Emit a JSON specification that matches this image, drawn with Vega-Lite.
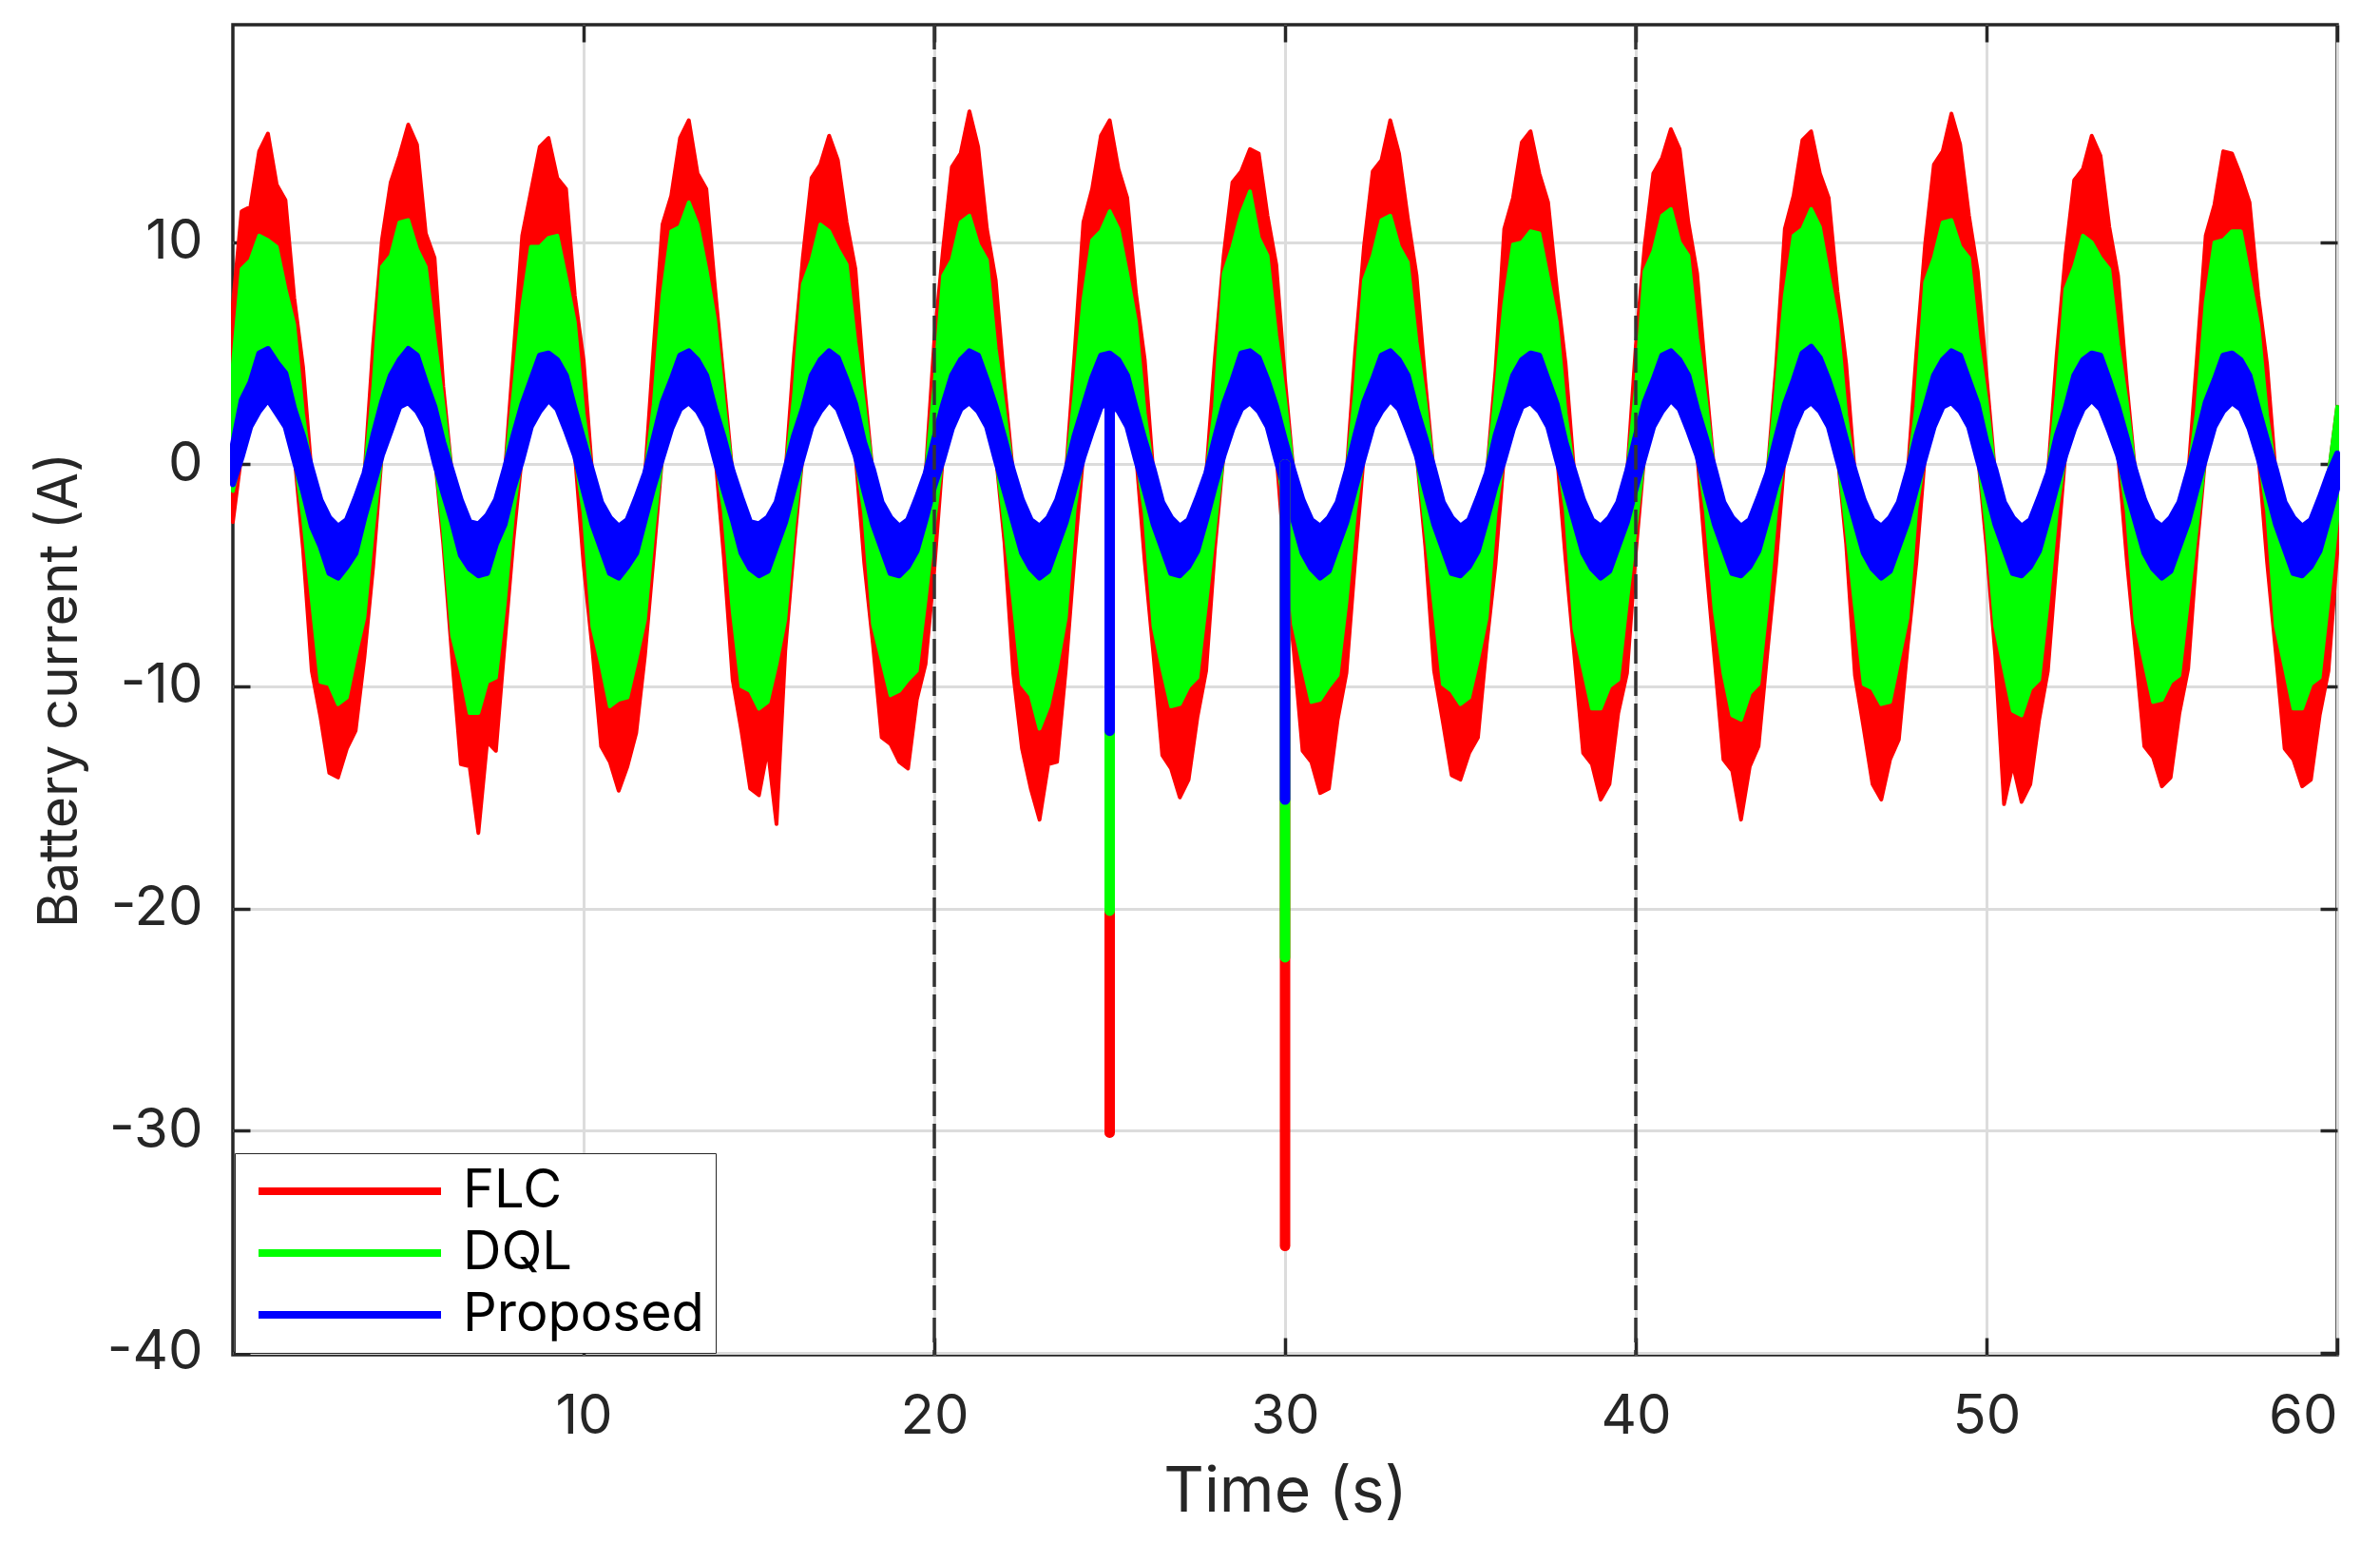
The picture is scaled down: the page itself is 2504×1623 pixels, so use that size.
{
  "$schema": "https://vega.github.io/schema/vega-lite/v6.json",
  "width": 2214,
  "height": 1399,
  "autosize": {"type": "none"},
  "padding": {"left": 245, "top": 26, "right": 45, "bottom": 198},
  "background": "white",
  "config": {
    "font": "Inter",
    "view": {"stroke": "#262626", "strokeWidth": 3.5},
    "axis": {
      "domain": false,
      "tickColor": "#262626",
      "tickWidth": 3.5,
      "tickSize": -18,
      "labelColor": "#262626",
      "labelFont": "Inter",
      "labelFontSize": 58,
      "titleColor": "#262626",
      "titleFont": "Inter",
      "titleFontWeight": "normal",
      "gridColor": "#dcdcdc",
      "gridWidth": 3
    }
  },
  "resolve": {"axis": {"x": "independent", "y": "independent"}},
  "datasets": {
    "sig": [
      {"t":0,"a":-2.6,"b":7.2,"c":-1.2,"d":4.5,"e":-0.9,"f":0.9},
      {"t":0.25,"a":0.5,"b":11.4,"c":0.5,"d":8.8,"e":0.3,"f":2.9},
      {"t":0.5,"a":1.8,"b":11.6,"c":1.8,"d":9.2,"e":1.7,"f":3.7},
      {"t":0.75,"a":2.7,"b":14.1,"c":2.7,"d":10.3,"e":2.4,"f":5.0},
      {"t":1,"a":3.0,"b":14.9,"c":3.0,"d":10.1,"e":2.9,"f":5.2},
      {"t":1.25,"a":2.7,"b":12.6,"c":2.7,"d":9.8,"e":2.3,"f":4.6},
      {"t":1.5,"a":1.8,"b":11.9,"c":1.8,"d":7.9,"e":1.7,"f":4.1},
      {"t":1.75,"a":0.5,"b":7.5,"c":0.5,"d":6.3,"e":0.2,"f":2.5},
      {"t":2,"a":-3.8,"b":4.4,"c":-2.4,"d":2.3,"e":-1.2,"f":1.3},
      {"t":2.25,"a":-9.3,"b":-0.5,"c":-6.1,"d":-0.5,"e":-2.8,"f":-0.2},
      {"t":2.5,"a":-11.4,"b":-1.8,"c":-9.8,"d":-1.8,"e":-3.7,"f":-1.6},
      {"t":2.75,"a":-13.9,"b":-2.7,"c":-9.9,"d":-2.7,"e":-4.9,"f":-2.4},
      {"t":3,"a":-14.1,"b":-3.0,"c":-10.8,"d":-3.0,"e":-5.1,"f":-2.8},
      {"t":3.25,"a":-12.8,"b":-2.7,"c":-10.5,"d":-2.7,"e":-4.6,"f":-2.5},
      {"t":3.5,"a":-12.0,"b":-1.8,"c":-8.6,"d":-1.8,"e":-4.0,"f":-1.5},
      {"t":3.75,"a":-8.7,"b":-0.5,"c":-6.9,"d":-0.5,"e":-2.4,"f":-0.4},
      {"t":4,"a":-4.6,"b":5.4,"c":-2.9,"d":3.4,"e":-1.0,"f":1.3},
      {"t":4.25,"a":0.5,"b":10.1,"c":0.5,"d":8.9,"e":0.4,"f":2.8},
      {"t":4.5,"a":1.8,"b":12.7,"c":1.8,"d":9.4,"e":1.5,"f":4.0},
      {"t":4.75,"a":2.7,"b":13.9,"c":2.7,"d":10.9,"e":2.6,"f":4.7},
      {"t":5,"a":3.0,"b":15.3,"c":3.0,"d":11.0,"e":2.8,"f":5.2},
      {"t":5.25,"a":2.7,"b":14.4,"c":2.7,"d":9.7,"e":2.4,"f":4.9},
      {"t":5.5,"a":1.8,"b":10.4,"c":1.8,"d":8.9,"e":1.7,"f":3.7},
      {"t":5.75,"a":0.5,"b":9.3,"c":0.5,"d":5.7,"e":0.1,"f":2.6},
      {"t":6,"a":-3.6,"b":3.5,"c":-3.0,"d":2.7,"e":-1.3,"f":1.0},
      {"t":6.25,"a":-8.7,"b":-0.5,"c":-7.7,"d":-0.5,"e":-2.6,"f":-0.3},
      {"t":6.5,"a":-13.5,"b":-1.8,"c":-9.3,"d":-1.8,"e":-4.1,"f":-1.6},
      {"t":6.75,"a":-13.6,"b":-2.7,"c":-11.2,"d":-2.7,"e":-4.7,"f":-2.6},
      {"t":7,"a":-16.6,"b":-3.0,"c":-11.2,"d":-3.0,"e":-5.0,"f":-2.7},
      {"t":7.25,"a":-12.5,"b":-2.7,"c":-9.8,"d":-2.7,"e":-4.9,"f":-2.3},
      {"t":7.5,"a":-12.9,"b":-1.8,"c":-9.6,"d":-1.8,"e":-3.6,"f":-1.6},
      {"t":7.75,"a":-8.1,"b":-0.5,"c":-6.3,"d":-0.5,"e":-2.7,"f":-0.2},
      {"t":8,"a":-3.4,"b":4.9,"c":-2.1,"d":3.2,"e":-1.1,"f":1.3},
      {"t":8.25,"a":0.5,"b":10.3,"c":0.5,"d":7.1,"e":0.2,"f":2.7},
      {"t":8.5,"a":1.8,"b":12.3,"c":1.8,"d":9.8,"e":1.7,"f":3.8},
      {"t":8.75,"a":2.7,"b":14.3,"c":2.7,"d":9.8,"e":2.4,"f":4.9},
      {"t":9,"a":3.0,"b":14.7,"c":3.0,"d":10.2,"e":2.9,"f":5.0},
      {"t":9.25,"a":2.7,"b":12.9,"c":2.7,"d":10.3,"e":2.5,"f":4.7},
      {"t":9.5,"a":1.8,"b":12.4,"c":1.8,"d":8.4,"e":1.5,"f":4.0},
      {"t":9.75,"a":0.5,"b":7.6,"c":0.5,"d":6.4,"e":0.4,"f":2.5},
      {"t":10,"a":-4.5,"b":4.7,"c":-2.2,"d":2.3,"e":-1.2,"f":1.1},
      {"t":10.25,"a":-8.3,"b":-0.5,"c":-7.3,"d":-0.5,"e":-2.7,"f":-0.3},
      {"t":10.5,"a":-12.7,"b":-1.8,"c":-9.0,"d":-1.8,"e":-3.8,"f":-1.7},
      {"t":10.75,"a":-13.4,"b":-2.7,"c":-10.9,"d":-2.7,"e":-4.9,"f":-2.4},
      {"t":11,"a":-14.7,"b":-3.0,"c":-10.6,"d":-3.0,"e":-5.1,"f":-2.8},
      {"t":11.25,"a":-13.6,"b":-2.7,"c":-10.5,"d":-2.7,"e":-4.6,"f":-2.5},
      {"t":11.5,"a":-12.1,"b":-1.8,"c":-8.8,"d":-1.8,"e":-4.0,"f":-1.5},
      {"t":11.75,"a":-8.6,"b":-0.5,"c":-7.0,"d":-0.5,"e":-2.5,"f":-0.4},
      {"t":12,"a":-4.1,"b":5.3,"c":-2.9,"d":2.7,"e":-1.0,"f":1.2},
      {"t":12.25,"a":0.5,"b":10.8,"c":0.5,"d":7.6,"e":0.3,"f":2.8},
      {"t":12.5,"a":1.8,"b":12.1,"c":1.8,"d":10.5,"e":1.6,"f":3.8},
      {"t":12.75,"a":2.7,"b":14.7,"c":2.7,"d":10.7,"e":2.5,"f":4.9},
      {"t":13,"a":3.0,"b":15.5,"c":3.0,"d":11.8,"e":2.8,"f":5.1},
      {"t":13.25,"a":2.7,"b":13.1,"c":2.7,"d":10.8,"e":2.4,"f":4.7},
      {"t":13.5,"a":1.8,"b":12.4,"c":1.8,"d":8.8,"e":1.7,"f":4.0},
      {"t":13.75,"a":0.5,"b":7.9,"c":0.5,"d":6.5,"e":0.2,"f":2.5},
      {"t":14,"a":-4.2,"b":3.7,"c":-2.1,"d":2.8,"e":-1.2,"f":1.2},
      {"t":14.25,"a":-9.7,"b":-0.5,"c":-6.6,"d":-0.5,"e":-2.5,"f":-0.3},
      {"t":14.5,"a":-12.0,"b":-1.8,"c":-10.0,"d":-1.8,"e":-4.0,"f":-1.5},
      {"t":14.75,"a":-14.6,"b":-2.7,"c":-10.2,"d":-2.7,"e":-4.7,"f":-2.6},
      {"t":15,"a":-14.9,"b":-3.0,"c":-11.0,"d":-3.0,"e":-5.0,"f":-2.7},
      {"t":15.25,"a":-12.8,"b":-2.7,"c":-10.7,"d":-2.7,"e":-4.8,"f":-2.4},
      {"t":15.5,"a":-16.2,"b":-1.8,"c":-9.0,"d":-1.8,"e":-3.7,"f":-1.7},
      {"t":15.75,"a":-8.4,"b":-0.5,"c":-7.0,"d":-0.5,"e":-2.6,"f":-0.2},
      {"t":16,"a":-3.7,"b":4.9,"c":-2.7,"d":3.1,"e":-1.1,"f":1.3},
      {"t":16.25,"a":0.5,"b":9.3,"c":0.5,"d":8.1,"e":0.3,"f":2.5},
      {"t":16.5,"a":1.8,"b":12.9,"c":1.8,"d":9.2,"e":1.7,"f":4.0},
      {"t":16.75,"a":2.7,"b":13.5,"c":2.7,"d":10.8,"e":2.4,"f":4.7},
      {"t":17,"a":3.0,"b":14.8,"c":3.0,"d":10.5,"e":2.9,"f":5.1},
      {"t":17.25,"a":2.7,"b":13.7,"c":2.7,"d":9.7,"e":2.5,"f":4.8},
      {"t":17.5,"a":1.8,"b":10.9,"c":1.8,"d":9.0,"e":1.5,"f":3.8},
      {"t":17.75,"a":0.5,"b":8.8,"c":0.5,"d":5.5,"e":0.4,"f":2.7},
      {"t":18,"a":-4.4,"b":3.6,"c":-2.2,"d":2.7,"e":-1.2,"f":1.0},
      {"t":18.25,"a":-8.1,"b":-0.5,"c":-7.2,"d":-0.5,"e":-2.7,"f":-0.2},
      {"t":18.5,"a":-12.3,"b":-1.8,"c":-8.8,"d":-1.8,"e":-3.8,"f":-1.7},
      {"t":18.75,"a":-12.6,"b":-2.7,"c":-10.4,"d":-2.7,"e":-4.9,"f":-2.4},
      {"t":19,"a":-13.4,"b":-3.0,"c":-10.2,"d":-3.0,"e":-5.0,"f":-2.8},
      {"t":19.25,"a":-13.7,"b":-2.7,"c":-9.7,"d":-2.7,"e":-4.6,"f":-2.5},
      {"t":19.5,"a":-10.6,"b":-1.8,"c":-9.3,"d":-1.8,"e":-3.9,"f":-1.5},
      {"t":19.75,"a":-9.0,"b":-0.5,"c":-6.1,"d":-0.5,"e":-2.5,"f":-0.4},
      {"t":20,"a":-4.7,"b":5.6,"c":-2.6,"d":3.5,"e":-1.0,"f":1.2},
      {"t":20.25,"a":0.5,"b":9.7,"c":0.5,"d":8.5,"e":0.2,"f":2.7},
      {"t":20.5,"a":1.8,"b":13.4,"c":1.8,"d":9.2,"e":1.6,"f":4.0},
      {"t":20.75,"a":2.7,"b":14.0,"c":2.7,"d":10.9,"e":2.5,"f":4.7},
      {"t":21,"a":3.0,"b":15.9,"c":3.0,"d":11.2,"e":2.8,"f":5.1},
      {"t":21.25,"a":2.7,"b":14.3,"c":2.7,"d":9.9,"e":2.4,"f":4.9},
      {"t":21.5,"a":1.8,"b":10.6,"c":1.8,"d":9.2,"e":1.7,"f":3.8},
      {"t":21.75,"a":0.5,"b":8.3,"c":0.5,"d":5.2,"e":0.2,"f":2.6},
      {"t":22,"a":-3.5,"b":3.6,"c":-2.7,"d":2.4,"e":-1.2,"f":1.2},
      {"t":22.25,"a":-9.4,"b":-0.5,"c":-6.1,"d":-0.5,"e":-2.6,"f":-0.3},
      {"t":22.5,"a":-12.8,"b":-1.8,"c":-9.9,"d":-1.8,"e":-4.0,"f":-1.6},
      {"t":22.75,"a":-14.6,"b":-2.7,"c":-10.4,"d":-2.7,"e":-4.7,"f":-2.5},
      {"t":23,"a":-16.0,"b":-3.0,"c":-11.9,"d":-3.0,"e":-5.1,"f":-2.8},
      {"t":23.25,"a":-13.5,"b":-2.7,"c":-10.9,"d":-2.7,"e":-4.8,"f":-2.4},
      {"t":23.5,"a":-13.4,"b":-1.8,"c":-9.1,"d":-1.8,"e":-3.7,"f":-1.6},
      {"t":23.75,"a":-9.2,"b":-0.5,"c":-6.9,"d":-0.5,"e":-2.6,"f":-0.3},
      {"t":24,"a":-4.1,"b":5.0,"c":-2.0,"d":3.2,"e":-1.1,"f":1.3},
      {"t":24.25,"a":0.5,"b":10.9,"c":0.5,"d":7.4,"e":0.3,"f":2.6},
      {"t":24.5,"a":1.8,"b":12.4,"c":1.8,"d":10.1,"e":1.5,"f":3.9},
      {"t":24.75,"a":2.7,"b":14.8,"c":2.7,"d":10.5,"e":2.6,"f":4.9},
      {"t":25,"a":3.0,"b":15.5,"c":3.0,"d":11.4,"e":2.8,"f":5.0},
      {"t":25.25,"a":2.7,"b":13.3,"c":2.7,"d":10.6,"e":2.4,"f":4.7},
      {"t":25.5,"a":1.8,"b":12.0,"c":1.8,"d":8.6,"e":1.7,"f":4.0},
      {"t":25.75,"a":0.5,"b":7.7,"c":0.5,"d":6.4,"e":0.2,"f":2.5},
      {"t":26,"a":-4.4,"b":4.7,"c":-2.2,"d":2.3,"e":-1.2,"f":1.1},
      {"t":26.25,"a":-8.6,"b":-0.5,"c":-7.3,"d":-0.5,"e":-2.7,"f":-0.2},
      {"t":26.5,"a":-13.1,"b":-1.8,"c":-9.2,"d":-1.8,"e":-3.8,"f":-1.7},
      {"t":26.75,"a":-13.7,"b":-2.7,"c":-10.9,"d":-2.7,"e":-4.9,"f":-2.4},
      {"t":27,"a":-15.0,"b":-3.0,"c":-10.8,"d":-3.0,"e":-5.0,"f":-2.8},
      {"t":27.25,"a":-14.2,"b":-2.7,"c":-10.0,"d":-2.7,"e":-4.6,"f":-2.5},
      {"t":27.5,"a":-11.4,"b":-1.8,"c":-9.6,"d":-1.8,"e":-3.9,"f":-1.5},
      {"t":27.75,"a":-9.3,"b":-0.5,"c":-6.3,"d":-0.5,"e":-2.5,"f":-0.4},
      {"t":28,"a":-3.8,"b":4.8,"c":-2.8,"d":2.6,"e":-1.0,"f":1.2},
      {"t":28.25,"a":0.5,"b":9.4,"c":0.5,"d":8.6,"e":0.4,"f":2.7},
      {"t":28.5,"a":1.8,"b":12.7,"c":1.8,"d":9.8,"e":1.6,"f":3.8},
      {"t":28.75,"a":2.7,"b":13.2,"c":2.7,"d":11.3,"e":2.5,"f":5.0},
      {"t":29,"a":3.0,"b":14.2,"c":3.0,"d":12.3,"e":2.8,"f":5.1},
      {"t":29.25,"a":2.7,"b":14.0,"c":2.7,"d":10.2,"e":2.4,"f":4.8},
      {"t":29.5,"a":1.8,"b":11.2,"c":1.8,"d":9.4,"e":1.7,"f":3.8},
      {"t":29.75,"a":0.5,"b":9.0,"c":0.5,"d":5.8,"e":0.2,"f":2.6},
      {"t":30,"a":-4.5,"b":3.8,"c":-2.2,"d":2.9,"e":-1.2,"f":1.1},
      {"t":30.25,"a":-8.4,"b":-0.5,"c":-7.2,"d":-0.5,"e":-2.6,"f":-0.3},
      {"t":30.5,"a":-12.9,"b":-1.8,"c":-9.0,"d":-1.8,"e":-4.0,"f":-1.6},
      {"t":30.75,"a":-13.4,"b":-2.7,"c":-10.7,"d":-2.7,"e":-4.7,"f":-2.5},
      {"t":31,"a":-14.8,"b":-3.0,"c":-10.6,"d":-3.0,"e":-5.1,"f":-2.8},
      {"t":31.25,"a":-14.6,"b":-2.7,"c":-10.0,"d":-2.7,"e":-4.8,"f":-2.4},
      {"t":31.5,"a":-11.5,"b":-1.8,"c":-9.5,"d":-1.8,"e":-3.7,"f":-1.7},
      {"t":31.75,"a":-9.4,"b":-0.5,"c":-6.2,"d":-0.5,"e":-2.6,"f":-0.3},
      {"t":32,"a":-4.3,"b":5.1,"c":-2.1,"d":3.3,"e":-1.1,"f":1.3},
      {"t":32.25,"a":0.5,"b":9.8,"c":0.5,"d":8.3,"e":0.3,"f":2.8},
      {"t":32.5,"a":1.8,"b":13.2,"c":1.8,"d":9.4,"e":1.7,"f":3.8},
      {"t":32.75,"a":2.7,"b":13.7,"c":2.7,"d":11.0,"e":2.4,"f":4.9},
      {"t":33,"a":3.0,"b":15.5,"c":3.0,"d":11.2,"e":2.9,"f":5.1},
      {"t":33.25,"a":2.7,"b":14.0,"c":2.7,"d":9.8,"e":2.5,"f":4.7},
      {"t":33.5,"a":1.8,"b":11.1,"c":1.8,"d":9.1,"e":1.5,"f":4.0},
      {"t":33.75,"a":0.5,"b":8.5,"c":0.5,"d":5.5,"e":0.4,"f":2.5},
      {"t":34,"a":-3.7,"b":3.7,"c":-2.8,"d":2.8,"e":-1.2,"f":1.2},
      {"t":34.25,"a":-9.3,"b":-0.5,"c":-6.3,"d":-0.5,"e":-2.7,"f":-0.2},
      {"t":34.5,"a":-11.6,"b":-1.8,"c":-9.9,"d":-1.8,"e":-3.8,"f":-1.7},
      {"t":34.75,"a":-14.0,"b":-2.7,"c":-10.2,"d":-2.7,"e":-4.9,"f":-2.4},
      {"t":35,"a":-14.2,"b":-3.0,"c":-10.8,"d":-3.0,"e":-5.0,"f":-2.8},
      {"t":35.25,"a":-13.0,"b":-2.7,"c":-10.5,"d":-2.7,"e":-4.6,"f":-2.5},
      {"t":35.5,"a":-12.3,"b":-1.8,"c":-8.8,"d":-1.8,"e":-3.9,"f":-1.5},
      {"t":35.75,"a":-8.1,"b":-0.5,"c":-6.9,"d":-0.5,"e":-2.5,"f":-0.4},
      {"t":36,"a":-4.5,"b":4.2,"c":-2.2,"d":3.1,"e":-1.0,"f":1.3},
      {"t":36.25,"a":0.5,"b":10.6,"c":0.5,"d":7.2,"e":0.2,"f":2.6},
      {"t":36.5,"a":1.8,"b":12.0,"c":1.8,"d":9.9,"e":1.6,"f":4.0},
      {"t":36.75,"a":2.7,"b":14.5,"c":2.7,"d":10.0,"e":2.6,"f":4.7},
      {"t":37,"a":3.0,"b":15.0,"c":3.0,"d":10.5,"e":2.8,"f":5.0},
      {"t":37.25,"a":2.7,"b":13.1,"c":2.7,"d":10.4,"e":2.4,"f":4.9},
      {"t":37.5,"a":1.8,"b":11.8,"c":1.8,"d":8.4,"e":1.7,"f":3.8},
      {"t":37.75,"a":0.5,"b":7.9,"c":0.5,"d":6.4,"e":0.2,"f":2.7},
      {"t":38,"a":-4.3,"b":4.5,"c":-2.0,"d":2.3,"e":-1.2,"f":1.0},
      {"t":38.25,"a":-8.6,"b":-0.5,"c":-7.4,"d":-0.5,"e":-2.6,"f":-0.3},
      {"t":38.5,"a":-13.0,"b":-1.8,"c":-9.2,"d":-1.8,"e":-4.0,"f":-1.6},
      {"t":38.75,"a":-13.5,"b":-2.7,"c":-11.0,"d":-2.7,"e":-4.7,"f":-2.5},
      {"t":39,"a":-15.1,"b":-3.0,"c":-11.0,"d":-3.0,"e":-5.1,"f":-2.8},
      {"t":39.25,"a":-14.4,"b":-2.7,"c":-10.0,"d":-2.7,"e":-4.8,"f":-2.4},
      {"t":39.5,"a":-11.2,"b":-1.8,"c":-9.7,"d":-1.8,"e":-3.7,"f":-1.7},
      {"t":39.75,"a":-9.4,"b":-0.5,"c":-6.2,"d":-0.5,"e":-2.6,"f":-0.3},
      {"t":40,"a":-4.0,"b":5.3,"c":-2.8,"d":3.4,"e":-1.1,"f":1.3},
      {"t":40.25,"a":0.5,"b":9.8,"c":0.5,"d":8.7,"e":0.3,"f":2.8},
      {"t":40.5,"a":1.8,"b":13.1,"c":1.8,"d":9.6,"e":1.7,"f":3.8},
      {"t":40.75,"a":2.7,"b":13.8,"c":2.7,"d":11.2,"e":2.4,"f":4.9},
      {"t":41,"a":3.0,"b":15.1,"c":3.0,"d":11.5,"e":2.9,"f":5.1},
      {"t":41.25,"a":2.7,"b":14.2,"c":2.7,"d":10.0,"e":2.5,"f":4.7},
      {"t":41.5,"a":1.8,"b":10.9,"c":1.8,"d":9.4,"e":1.5,"f":4.0},
      {"t":41.75,"a":0.5,"b":8.6,"c":0.5,"d":5.7,"e":0.4,"f":2.5},
      {"t":42,"a":-4.4,"b":3.8,"c":-2.1,"d":2.9,"e":-1.2,"f":1.2},
      {"t":42.25,"a":-8.8,"b":-0.5,"c":-6.6,"d":-0.5,"e":-2.7,"f":-0.2},
      {"t":42.5,"a":-13.3,"b":-1.8,"c":-9.4,"d":-1.8,"e":-3.8,"f":-1.7},
      {"t":42.75,"a":-13.8,"b":-2.7,"c":-11.3,"d":-2.7,"e":-4.9,"f":-2.4},
      {"t":43,"a":-16.0,"b":-3.0,"c":-11.5,"d":-3.0,"e":-5.0,"f":-2.8},
      {"t":43.25,"a":-13.6,"b":-2.7,"c":-10.3,"d":-2.7,"e":-4.6,"f":-2.5},
      {"t":43.5,"a":-12.7,"b":-1.8,"c":-9.9,"d":-1.8,"e":-3.9,"f":-1.5},
      {"t":43.75,"a":-8.5,"b":-0.5,"c":-6.3,"d":-0.5,"e":-2.5,"f":-0.4},
      {"t":44,"a":-4.5,"b":4.4,"c":-2.1,"d":3.3,"e":-1.0,"f":1.2},
      {"t":44.25,"a":0.5,"b":10.6,"c":0.5,"d":7.6,"e":0.2,"f":2.7},
      {"t":44.5,"a":1.8,"b":12.1,"c":1.8,"d":10.3,"e":1.6,"f":3.8},
      {"t":44.75,"a":2.7,"b":14.6,"c":2.7,"d":10.6,"e":2.5,"f":5.0},
      {"t":45,"a":3.0,"b":15.0,"c":3.0,"d":11.5,"e":2.8,"f":5.3},
      {"t":45.25,"a":2.7,"b":13.1,"c":2.7,"d":10.7,"e":2.4,"f":4.8},
      {"t":45.5,"a":1.8,"b":12.0,"c":1.8,"d":8.5,"e":1.7,"f":3.8},
      {"t":45.75,"a":0.5,"b":7.8,"c":0.5,"d":6.4,"e":0.2,"f":2.6},
      {"t":46,"a":-3.6,"b":4.5,"c":-2.8,"d":2.2,"e":-1.2,"f":1.1},
      {"t":46.25,"a":-9.5,"b":-0.5,"c":-6.4,"d":-0.5,"e":-2.6,"f":-0.3},
      {"t":46.5,"a":-11.9,"b":-1.8,"c":-9.9,"d":-1.8,"e":-4.0,"f":-1.6},
      {"t":46.75,"a":-14.4,"b":-2.7,"c":-10.1,"d":-2.7,"e":-4.7,"f":-2.5},
      {"t":47,"a":-15.1,"b":-3.0,"c":-10.8,"d":-3.0,"e":-5.1,"f":-2.8},
      {"t":47.25,"a":-13.3,"b":-2.7,"c":-10.7,"d":-2.7,"e":-4.8,"f":-2.4},
      {"t":47.5,"a":-12.4,"b":-1.8,"c":-8.8,"d":-1.8,"e":-3.7,"f":-1.7},
      {"t":47.75,"a":-8.2,"b":-0.5,"c":-6.9,"d":-0.5,"e":-2.6,"f":-0.3},
      {"t":48,"a":-4.4,"b":5.0,"c":-2.0,"d":2.6,"e":-1.1,"f":1.3},
      {"t":48.25,"a":0.5,"b":9.9,"c":0.5,"d":8.2,"e":0.3,"f":2.6},
      {"t":48.5,"a":1.8,"b":13.5,"c":1.8,"d":9.3,"e":1.7,"f":4.0},
      {"t":48.75,"a":2.7,"b":14.1,"c":2.7,"d":10.9,"e":2.6,"f":4.7},
      {"t":49,"a":3.0,"b":15.8,"c":3.0,"d":11.0,"e":2.8,"f":5.1},
      {"t":49.25,"a":2.7,"b":14.4,"c":2.7,"d":9.8,"e":2.4,"f":4.9},
      {"t":49.5,"a":1.8,"b":11.2,"c":1.8,"d":9.3,"e":1.7,"f":3.8},
      {"t":49.75,"a":0.5,"b":8.7,"c":0.5,"d":5.6,"e":0.2,"f":2.7},
      {"t":50,"a":-3.7,"b":4.0,"c":-2.8,"d":2.9,"e":-1.2,"f":1.0},
      {"t":50.25,"a":-8.6,"b":-0.5,"c":-7.3,"d":-0.5,"e":-2.7,"f":-0.2},
      {"t":50.5,"a":-15.3,"b":-1.8,"c":-9.2,"d":-1.8,"e":-3.8,"f":-1.7},
      {"t":50.75,"a":-13.5,"b":-2.7,"c":-11.1,"d":-2.7,"e":-4.9,"f":-2.4},
      {"t":51,"a":-15.2,"b":-3.0,"c":-11.3,"d":-3.0,"e":-5.0,"f":-2.8},
      {"t":51.25,"a":-14.4,"b":-2.7,"c":-10.1,"d":-2.7,"e":-4.6,"f":-2.5},
      {"t":51.5,"a":-11.5,"b":-1.8,"c":-9.7,"d":-1.8,"e":-3.9,"f":-1.5},
      {"t":51.75,"a":-9.3,"b":-0.5,"c":-6.2,"d":-0.5,"e":-2.5,"f":-0.4},
      {"t":52,"a":-4.3,"b":4.9,"c":-2.2,"d":3.1,"e":-1.0,"f":1.3},
      {"t":52.25,"a":0.5,"b":9.4,"c":0.5,"d":7.9,"e":0.4,"f":2.5},
      {"t":52.5,"a":1.8,"b":12.8,"c":1.8,"d":8.9,"e":1.6,"f":4.0},
      {"t":52.75,"a":2.7,"b":13.3,"c":2.7,"d":10.3,"e":2.5,"f":4.7},
      {"t":53,"a":3.0,"b":14.8,"c":3.0,"d":10.0,"e":2.9,"f":5.0},
      {"t":53.25,"a":2.7,"b":13.9,"c":2.7,"d":9.3,"e":2.5,"f":4.9},
      {"t":53.5,"a":1.8,"b":10.7,"c":1.8,"d":8.8,"e":1.5,"f":3.8},
      {"t":53.75,"a":0.5,"b":8.5,"c":0.5,"d":5.4,"e":0.4,"f":2.6},
      {"t":54,"a":-4.3,"b":3.6,"c":-2.1,"d":2.8,"e":-1.2,"f":1.2},
      {"t":54.25,"a":-8.4,"b":-0.5,"c":-7.1,"d":-0.5,"e":-2.6,"f":-0.3},
      {"t":54.5,"a":-12.7,"b":-1.8,"c":-8.9,"d":-1.8,"e":-4.0,"f":-1.6},
      {"t":54.75,"a":-13.2,"b":-2.7,"c":-10.7,"d":-2.7,"e":-4.7,"f":-2.5},
      {"t":55,"a":-14.5,"b":-3.0,"c":-10.6,"d":-3.0,"e":-5.1,"f":-2.8},
      {"t":55.25,"a":-14.1,"b":-2.7,"c":-9.8,"d":-2.7,"e":-4.8,"f":-2.4},
      {"t":55.5,"a":-11.2,"b":-1.8,"c":-9.5,"d":-1.8,"e":-3.7,"f":-1.7},
      {"t":55.75,"a":-9.2,"b":-0.5,"c":-6.1,"d":-0.5,"e":-2.6,"f":-0.3},
      {"t":56,"a":-3.8,"b":4.8,"c":-2.8,"d":2.4,"e":-1.1,"f":1.2},
      {"t":56.25,"a":0.5,"b":10.3,"c":0.5,"d":7.3,"e":0.3,"f":2.8},
      {"t":56.5,"a":1.8,"b":11.7,"c":1.8,"d":10.0,"e":1.7,"f":3.8},
      {"t":56.75,"a":2.7,"b":14.1,"c":2.7,"d":10.1,"e":2.4,"f":4.9},
      {"t":57,"a":3.0,"b":14.0,"c":3.0,"d":10.5,"e":2.8,"f":5.0},
      {"t":57.25,"a":2.7,"b":13.0,"c":2.7,"d":10.5,"e":2.5,"f":4.7},
      {"t":57.5,"a":1.8,"b":11.8,"c":1.8,"d":8.4,"e":1.6,"f":4.0},
      {"t":57.75,"a":0.5,"b":7.6,"c":0.5,"d":6.3,"e":0.3,"f":2.5},
      {"t":58,"a":-4.4,"b":4.5,"c":-2.1,"d":2.2,"e":-1.2,"f":1.1},
      {"t":58.25,"a":-8.5,"b":-0.5,"c":-7.3,"d":-0.5,"e":-2.7,"f":-0.2},
      {"t":58.5,"a":-12.8,"b":-1.8,"c":-9.1,"d":-1.8,"e":-3.8,"f":-1.7},
      {"t":58.75,"a":-13.3,"b":-2.7,"c":-11.0,"d":-2.7,"e":-4.9,"f":-2.4},
      {"t":59,"a":-14.5,"b":-3.0,"c":-11.0,"d":-3.0,"e":-5.0,"f":-2.8},
      {"t":59.25,"a":-14.2,"b":-2.7,"c":-9.9,"d":-2.7,"e":-4.6,"f":-2.5},
      {"t":59.5,"a":-11.3,"b":-1.8,"c":-9.6,"d":-1.8,"e":-3.9,"f":-1.5},
      {"t":59.75,"a":-9.3,"b":-0.5,"c":-6.1,"d":-0.5,"e":-2.5,"f":-0.4},
      {"t":60,"a":-4.0,"b":2.6,"c":-2.5,"d":2.6,"e":-1.1,"f":0.5}
    ],
    "spk": [
      {"t":25,"s":"FLC","lo":-30.1,"hi":0},
      {"t":30,"s":"FLC","lo":-35.2,"hi":0},
      {"t":25,"s":"DQL","lo":-20.1,"hi":0},
      {"t":30,"s":"DQL","lo":-22.2,"hi":0},
      {"t":25,"s":"Proposed","lo":-12.0,"hi":3},
      {"t":30,"s":"Proposed","lo":-15.1,"hi":0}
    ],
    "marks": [{"t":20},{"t":40}]
  },
  "layer": [
    {
      "data": {"name": "sig"},
      "mark": {"type": "area", "opacity": 1, "stroke": "#ff0000", "strokeWidth": 4, "strokeJoin": "round"},
      "encoding": {
        "x": {
          "field": "t", "type": "quantitative",
          "scale": {"domain": [0, 60], "nice": false, "zero": false},
          "axis": {"orient": "bottom", "values": [10, 20, 30, 40, 50, 60], "title": "Time (s)", "titleFontSize": 66, "labelPadding": 54, "titlePadding": 18, "grid": true}
        },
        "y": {
          "field": "a", "type": "quantitative",
          "scale": {"domain": [-40.1, 19.8], "nice": false, "zero": false},
          "axis": {"orient": "left", "values": [-40, -30, -20, -10, 0, 10], "labelExpr": "replace(datum.label, '−', '-')", "title": "Battery current (A)", "titleFontSize": 57, "labelPadding": 50, "titlePadding": 20, "grid": true}
        },
        "y2": {"field": "b"},
        "color": {
          "datum": "FLC", "type": "nominal", "title": null,
          "scale": {"domain": ["FLC", "DQL", "Proposed"], "range": ["#ff0000", "#00ff00", "#0000ff"]},
          "legend": {
            "title": null,
            "orient": "bottom-left",
            "offset": 2,
            "padding": 12,
            "labelFont": "Inter",
            "labelFontSize": 56,
            "labelLimit": 600,
            "labelColor": "#000000",
            "labelExpr": "datum.label + '\u00a0\u00a0'",
            "symbolType": "M-4,0H4",
            "symbolSize": 2304,
            "symbolStrokeWidth": 8,
            "symbolOffset": 81,
            "labelOffset": 91,
            "rowPadding": 9,
            "symbolOpacity": 1,
            "fillColor": "#ffffff",
            "strokeColor": "#262626",
            "encode": {
              "legend": {"update": {"strokeWidth": {"value": 3.5}}},
              "symbols": {"update": {"fill": {"value": "transparent"}, "stroke": {"scale": "color", "field": "value"}, "strokeWidth": {"value": 8}}}
            }
          }
        }
      }
    },
    {
      "data": {"name": "sig"},
      "mark": {"type": "area", "opacity": 1, "stroke": "#00ff00", "strokeWidth": 4, "strokeJoin": "round"},
      "encoding": {
        "x": {"field": "t", "type": "quantitative", "axis": null},
        "y": {"field": "c", "type": "quantitative", "axis": null},
        "y2": {"field": "d"},
        "color": {"datum": "DQL", "type": "nominal", "title": null}
      }
    },
    {
      "data": {"name": "sig"},
      "mark": {"type": "area", "opacity": 1, "stroke": "#0000ff", "strokeWidth": 6, "strokeJoin": "round"},
      "encoding": {
        "x": {"field": "t", "type": "quantitative", "axis": null},
        "y": {"field": "e", "type": "quantitative", "axis": null},
        "y2": {"field": "f"},
        "color": {"datum": "Proposed", "type": "nominal", "title": null}
      }
    },
    {
      "data": {"name": "spk"},
      "mark": {"type": "rule", "strokeWidth": 11, "strokeCap": "round"},
      "encoding": {
        "x": {"field": "t", "type": "quantitative", "axis": null},
        "y": {
          "field": "lo", "type": "quantitative",
          "axis": {"orient": "right", "values": [-40, -30, -20, -10, 0, 10], "labels": false, "grid": false, "title": null}
        },
        "y2": {"field": "hi"},
        "color": {"field": "s", "type": "nominal", "title": null}
      }
    },
    {
      "data": {"name": "marks"},
      "mark": {"type": "rule", "strokeDash": [26, 8], "strokeWidth": 3.5, "color": "#333333"},
      "encoding": {
        "x": {
          "field": "t", "type": "quantitative",
          "axis": {"orient": "top", "values": [10, 20, 30, 40, 50, 60], "labels": false, "grid": false, "title": null}
        }
      }
    }
  ]
}
